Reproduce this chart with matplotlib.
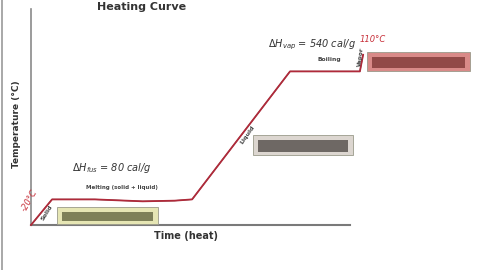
import matplotlib.pyplot as plt
from matplotlib.patches import Rectangle

# heating curve (time in arbitrary units, temperature in degC)
time = [0, 6.6, 20, 35, 45, 50.5, 81.2, 103.1, 104.1]
temp = [-20, 0, 0, -1.5, -1, 0, 100, 100, 113]

phase_labels = ["Solid", "Liquid", "Vapor"]
h_fus = 80
h_vap = 540

W, H = 480, 270


def px(x, y):
    """pixel position (from top left) -> figure fraction"""
    return x / W, 1 - y / H


fig = plt.figure(figsize=(4.8, 2.7), dpi=100)
ax = fig.add_axes([31 / W, 45 / H, 319 / W, 216 / H])
ax.set_xlim(0, 100)
ax.set_ylim(-20, 148.75)
ax.set_xticks([])
ax.set_yticks([])
for side in ("top", "right"):
    ax.spines[side].set_visible(False)
ax.spines["left"].set_color("#8a8a8a")
ax.spines["left"].set_linewidth(1.2)
ax.spines["bottom"].set_color("#7a7a7a")
ax.spines["bottom"].set_linewidth(1.5)

# curve: a grey pencil line with the red line on top
ax.plot(time, temp, color="#555555", lw=0.8, clip_on=False, zorder=3)
ax.plot(time, temp, color="#b02a3a", lw=1.3, clip_on=False, zorder=4)

# titles
fig.text(*px(142, 7), "Heating Curve", fontsize=8, fontweight="bold",
         color="#333333", ha="center", va="center")
fig.text(*px(17, 124), "Temperature (\u00b0C)", fontsize=6.5, fontweight="bold",
         color="#333333", rotation=90, ha="center", va="center")
fig.text(*px(186, 236), "Time (heat)", fontsize=7, fontweight="bold",
         color="#333333", ha="center", va="center")

# latent heat notes
fig.text(*px(112, 168), r"$\Delta H_{fus}$ = %d cal/g" % h_fus, fontsize=7,
         style="italic", color="#333333", ha="center", va="center")
fig.text(*px(122, 187), "Melting (solid + liquid)", fontsize=4,
         fontweight="bold", color="#444444", ha="center", va="center")
fig.text(*px(312, 45), r"$\Delta H_{vap}$ = %d cal/g" % h_vap, fontsize=7,
         style="italic", color="#333333", ha="center", va="center")
fig.text(*px(329, 59), "Boiling", fontsize=4.3, fontweight="bold",
         color="#444444", ha="center", va="center")

# phase labels along the slopes
fig.text(*px(47, 213), phase_labels[0], fontsize=4.5, fontweight="bold",
         color="#444444", rotation=58, ha="center", va="center")
fig.text(*px(247, 135), phase_labels[1], fontsize=4.5, fontweight="bold",
         color="#444444", rotation=55, ha="center", va="center")
fig.text(*px(361, 57), phase_labels[2], fontsize=4.3, fontweight="bold",
         color="#444444", rotation=82, ha="center", va="center")

# red handwriting
fig.text(*px(29, 200), "-20\u00b0C", fontsize=6, style="italic",
         color="#c8303a", rotation=60, ha="center", va="center")
fig.text(*px(373, 40), "110\u00b0C", fontsize=6, style="italic",
         color="#c8303a", ha="center", va="center")

# smudged sticky boxes
boxes = [
    ((57, 207), (101, 17), "#e6e6b4", "#5b5e3a"),
    ((253, 135), (100, 20), "#dcd6d0", "#4a4440"),
    ((367, 52), (103, 19), "#d98a88", "#7a3432"),
]
for (x0, y0), (bw, bh), fill, ink in boxes:
    fx, fy = px(x0, y0 + bh)
    fig.add_artist(Rectangle((fx, fy), bw / W, bh / H, transform=fig.transFigure,
                             facecolor=fill, edgecolor="#9a9a8a", lw=0.6))
    fx, fy = px(x0 + 5, y0 + bh - 3)
    fig.add_artist(Rectangle((fx, fy), (bw - 10) / W, (bh - 8) / H,
                             transform=fig.transFigure, facecolor=ink,
                             edgecolor="none", alpha=0.75))

# page edge
fig.add_artist(plt.Line2D([1.5 / W, 1.5 / W], [0, 1], transform=fig.transFigure,
                          color="#9a9a9a", lw=1.2))

fig.savefig("out.png", dpi=100)
